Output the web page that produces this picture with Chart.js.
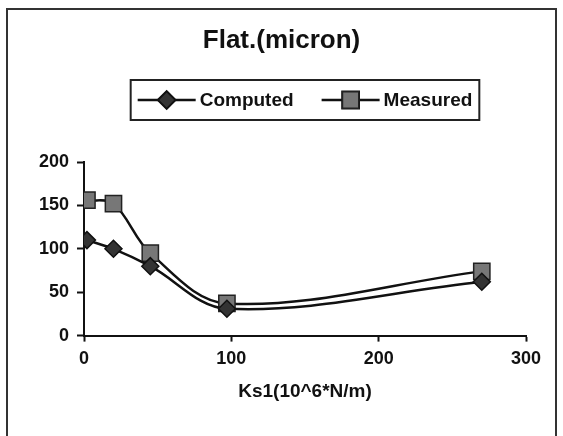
<!DOCTYPE html>
<html>
<head>
<meta charset="utf-8">
<script src="https://cdn.jsdelivr.net/npm/chart.js@4"></script>
<style>
  html, body { margin: 0; padding: 0; background: #fff; }
  #wrap { width: 563px; height: 436px; position: relative; }
</style>
</head>
<body>
<div id="wrap"><canvas id="chart" width="563" height="436"></canvas></div>
<script>
// values
const ks1 = [2, 20, 45, 97, 270];
const computed = [110, 100, 80, 31, 62];
const measured = [156, 152, 95, 37, 74];
const xTicks = [0, 100, 200, 300];
const yTicks = [0, 50, 100, 150, 200];
const seriesNames = ['Computed', 'Measured'];
const chartTitle = 'Flat.(micron)';

const FONT = "'Liberation Sans', Arial, sans-serif";

// outer frame, title and boxed legend, drawn like the spreadsheet chart
const framePlugin = {
    id: 'frame',
    afterDraw(chart) {
        const ctx = chart.ctx;
        ctx.save();
        ctx.strokeStyle = '#333';
        ctx.lineWidth = 2;
        ctx.strokeRect(7, 9, 549, 440);

        // title
        ctx.fillStyle = '#111';
        ctx.font = 'bold 26px ' + FONT;
        ctx.textAlign = 'center';
        ctx.textBaseline = 'middle';
        ctx.fillText(chartTitle, chart.width / 2, 41);

        // legend
        ctx.font = 'bold 19px ' + FONT;
        const symW = 58, gap = 4, itemGap = 28, pad = 7;
        const widths = chart.data.datasets.map(d => ctx.measureText(d.label).width);
        let total = pad * 2;
        widths.forEach((w, i) => { total += symW + gap + w + (i ? itemGap : 0); });
        const boxH = 40;
        const cx = (chart.chartArea.left + chart.chartArea.right) / 2;
        const left = cx - total / 2, top = 80;
        ctx.lineWidth = 2;
        ctx.strokeStyle = '#222';
        ctx.strokeRect(left, top, total, boxH);
        let x = left + pad;
        const y = top + boxH / 2;
        chart.data.datasets.forEach((d, i) => {
            if (i) x += itemGap;
            ctx.strokeStyle = '#111';
            ctx.lineWidth = 2.5;
            ctx.beginPath();
            ctx.moveTo(x, y);
            ctx.lineTo(x + symW, y);
            ctx.stroke();
            Chart.helpers.drawPoint(ctx, {
                pointStyle: d.pointStyle,
                radius: d.pointRadius,
                borderWidth: d.pointBorderWidth
            }, x + symW / 2, y);
            ctx.fillStyle = d.pointBackgroundColor;
            ctx.strokeStyle = d.pointBorderColor;
            ctx.lineWidth = d.pointBorderWidth;
            ctx.fill();
            ctx.stroke();
            x += symW + gap;
            ctx.fillStyle = '#111';
            ctx.textAlign = 'left';
            ctx.fillText(d.label, x, y + 1);
            x += widths[i];
        });
        ctx.restore();
    }
};

const ctx = document.getElementById('chart').getContext('2d');
const chart = new Chart(ctx, {
    type: 'line',
    data: {
        datasets: [{
            label: seriesNames[0],
            data: ks1.map((k, i) => ({ x: k, y: computed[i] })),
            borderColor: '#111',
            borderWidth: 2.5,
            tension: 0.35,
            pointStyle: 'rectRot',
            pointRadius: 8.5,
            pointBackgroundColor: '#333',
            pointBorderColor: '#111',
            pointBorderWidth: 1.5
        }, {
            label: seriesNames[1],
            data: ks1.map((k, i) => ({ x: k, y: measured[i] })),
            borderColor: '#111',
            borderWidth: 2.5,
            tension: 0.35,
            pointStyle: 'rect',
            pointRadius: 11.5,
            pointBackgroundColor: '#777',
            pointBorderColor: '#222',
            pointBorderWidth: 1.5
        }]
    },
    options: {
        responsive: false,
        animation: false,
        layout: { padding: { top: 162, left: 10, right: 37, bottom: 29 } },
        plugins: {
            legend: { display: false },
            tooltip: { enabled: false },
            title: { display: false }
        },
        scales: {
            x: {
                type: 'linear',
                min: 0,
                max: 300,
                afterBuildTicks: s => { s.ticks = xTicks.map(v => ({ value: v })); },
                grid: { drawOnChartArea: false, color: '#111', tickLength: 6, tickWidth: 2 },
                border: { color: '#111', width: 2 },
                ticks: { color: '#111', padding: 7, font: { family: FONT, size: 18, weight: 'bold' } },
                title: {
                    display: true,
                    text: 'Ks1(10^6*N/m)',
                    color: '#111',
                    font: { family: FONT, size: 19, weight: 'bold' },
                    padding: { top: 3, bottom: 4 }
                }
            },
            y: {
                min: 0,
                max: 200,
                afterBuildTicks: s => { s.ticks = yTicks.map(v => ({ value: v })); },
                afterFit: s => { s.width = 74; },
                grid: { drawOnChartArea: false, color: '#111', tickLength: 7, tickWidth: 2 },
                border: { color: '#111', width: 2 },
                ticks: { color: '#111', padding: 8, font: { family: FONT, size: 18, weight: 'bold' } }
            }
        }
    },
    plugins: [framePlugin]
});
</script>
</body>
</html>
